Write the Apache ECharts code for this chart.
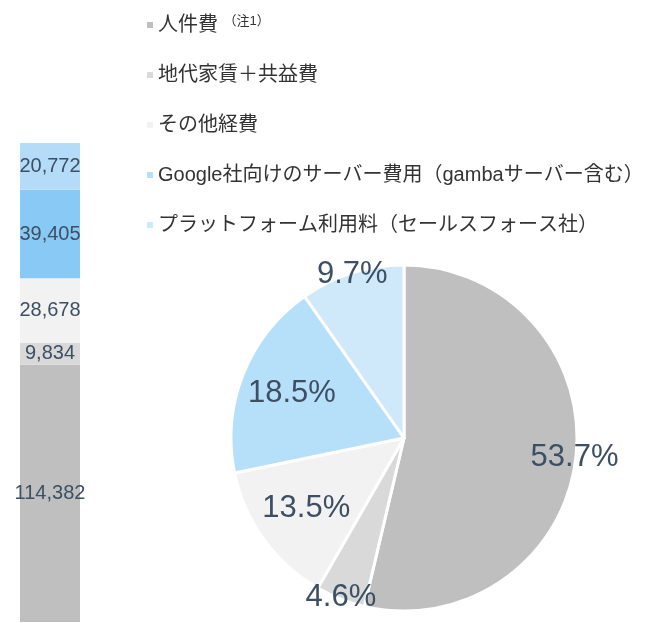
<!DOCTYPE html>
<html>
<head>
<meta charset="utf-8">
<script src="https://cdn.jsdelivr.net/npm/echarts@6/dist/echarts.min.js"></script>
<style>
  html, body { margin: 0; padding: 0; background: #fff; }
  #main { width: 663px; height: 623px; }
</style>
</head>
<body>
<div id="main"></div>
<script>
// cost items (same order in bar stack and pie)
var categories = ['人件費', '地代家賃＋共益費', 'その他経費', 'Google社向けのサーバー費用（gambaサーバー含む）', 'プラットフォーム利用料（セールスフォース社）'];
var values = [114382, 9834, 28678, 39405, 20772];
var pieColors = ['#bfbfbf', '#d9d9d9', '#f2f2f2', '#b6dff9', '#cfe9fb'];
var barColors = ['#bfbfbf', '#d9d9d9', '#f2f2f2', '#89c9f6', '#b4dcf9'];
// which pie labels sit near the rim
var outerLabel = [true, true, false, false, true];

var myChart = echarts.init(document.getElementById('main'));
var font = '"Liberation Sans", Arial, "Noto Sans CJK JP", sans-serif';
var labelColor = '#3d4f63';

var barSeries = categories.map(function (name, i) {
  return {
    name: name,
    type: 'bar',
    stack: 'total',
    barWidth: '100%',
    data: [values[i]],
    itemStyle: { color: barColors[i] },
    label: {
      show: true,
      position: 'inside',
      fontSize: 20,
      fontFamily: font,
      color: labelColor,
      formatter: function (p) { return p.value.toLocaleString('en-US'); }
    },
    silent: true
  };
});

var pieCenter = [404, 438];
var R = 173;

function pieData(showFn) {
  return categories.map(function (name, i) {
    return {
      name: name,
      value: values[i],
      label: { show: showFn(i) }
    };
  });
}

var pieLabel = {
  position: 'inside',
  fontSize: 31,
  fontFamily: font,
  color: labelColor,
  formatter: '{d}%'
};

var option = {
  animation: false,
  legend: {
    orient: 'vertical',
    left: 142,
    top: 8,
    itemWidth: 6,
    itemHeight: 6,
    itemGap: 26,
    icon: 'rect',
    selectedMode: false,
    data: categories.map(function (name, i) {
      return { name: name, itemStyle: { color: pieColors[i] } };
    }),
    formatter: function (name) {
      return name === '人件費' ? name + ' {s|（注1）}' : name;
    },
    textStyle: {
      fontSize: 20,
      lineHeight: 24,
      fontFamily: font,
      color: '#333',
      rich: {
        s: { fontSize: 13, fontFamily: font, color: '#333', padding: [0, 0, 8, 0] }
      }
    }
  },
  grid: { left: 20, width: 60, top: 143, bottom: 1 },
  xAxis: { type: 'category', data: [''], show: false },
  yAxis: { type: 'value', show: false, max: 'dataMax' },
  series: barSeries.concat([
    {
      name: 'pie',
      type: 'pie',
      center: pieCenter,
      radius: [0, R],
      startAngle: 90,
      clockwise: true,
      percentPrecision: 1,
      data: categories.map(function (name, i) {
        return { name: name, value: values[i], itemStyle: { color: pieColors[i] } };
      }),
      itemStyle: { borderColor: '#fff', borderWidth: 3 },
      label: { show: false },
      labelLine: { show: false },
      silent: true
    },
    {
      name: 'pieInnerLabels',
      type: 'pie',
      center: pieCenter,
      radius: [R * 0.36, R],
      startAngle: 90,
      percentPrecision: 1,
      data: pieData(function (i) { return !outerLabel[i]; }),
      itemStyle: { color: 'rgba(0,0,0,0)' },
      label: pieLabel,
      labelLine: { show: false },
      silent: true,
      legendHoverLink: false
    },
    {
      name: 'pieOuterLabels',
      type: 'pie',
      center: pieCenter,
      radius: [R * 0.95, R],
      startAngle: 90,
      percentPrecision: 1,
      data: pieData(function (i) { return outerLabel[i]; }),
      itemStyle: { color: 'rgba(0,0,0,0)' },
      label: pieLabel,
      labelLine: { show: false },
      silent: true,
      legendHoverLink: false
    }
  ])
};

myChart.setOption(option);
window.addEventListener('resize', function () {
  myChart.resize();
});
</script>
</body>
</html>
